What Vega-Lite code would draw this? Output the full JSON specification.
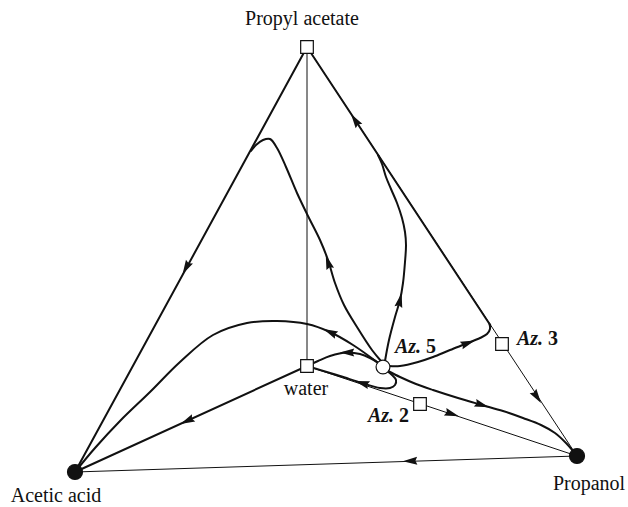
{
  "$schema": "https://vega.github.io/schema/vega-lite/v6.json",
  "width": 628,
  "height": 507,
  "autosize": {"type": "fit", "contains": "padding"},
  "padding": 0,
  "background": "white",
  "config": {"view": {"stroke": null}},
  "datasets": {
    "paths": [
      {"line": "Propyl acetate–Propanol", "type": "edge", "i": 0, "x": 307, "y": 47},
      {"line": "Propyl acetate–Propanol", "type": "edge", "i": 1, "x": 577, "y": 456},
      {"line": "Acetic acid–Propanol", "type": "edge", "i": 0, "x": 75, "y": 472},
      {"line": "Acetic acid–Propanol", "type": "edge", "i": 1, "x": 577, "y": 456},
      {"line": "Propyl acetate–water", "type": "edge", "i": 0, "x": 307, "y": 47},
      {"line": "Propyl acetate–water", "type": "edge", "i": 1, "x": 307, "y": 366},
      {"line": "water–Propanol", "type": "edge", "i": 0, "x": 307, "y": 366},
      {"line": "water–Propanol", "type": "edge", "i": 1, "x": 577, "y": 456},

      {"line": "r1", "type": "residue curve", "i": 0, "x": 307, "y": 47},
      {"line": "r1", "type": "residue curve", "i": 1, "x": 75, "y": 472},

      {"line": "r2", "type": "residue curve", "i": 0, "x": 377, "y": 362},
      {"line": "r2", "type": "residue curve", "i": 1, "x": 353, "y": 345},
      {"line": "r2", "type": "residue curve", "i": 2, "x": 330, "y": 332},
      {"line": "r2", "type": "residue curve", "i": 3, "x": 307, "y": 324},
      {"line": "r2", "type": "residue curve", "i": 4, "x": 277, "y": 321},
      {"line": "r2", "type": "residue curve", "i": 5, "x": 247, "y": 323},
      {"line": "r2", "type": "residue curve", "i": 6, "x": 213, "y": 335},
      {"line": "r2", "type": "residue curve", "i": 7, "x": 180, "y": 362},
      {"line": "r2", "type": "residue curve", "i": 8, "x": 150, "y": 392},
      {"line": "r2", "type": "residue curve", "i": 9, "x": 120, "y": 421},
      {"line": "r2", "type": "residue curve", "i": 10, "x": 95, "y": 448},
      {"line": "r2", "type": "residue curve", "i": 11, "x": 75, "y": 472},

      {"line": "r3", "type": "residue curve", "i": 0, "x": 380, "y": 364},
      {"line": "r3", "type": "residue curve", "i": 1, "x": 370, "y": 358},
      {"line": "r3", "type": "residue curve", "i": 2, "x": 360, "y": 354},
      {"line": "r3", "type": "residue curve", "i": 3, "x": 347, "y": 352.5},
      {"line": "r3", "type": "residue curve", "i": 4, "x": 330, "y": 356},
      {"line": "r3", "type": "residue curve", "i": 5, "x": 318, "y": 361},
      {"line": "r3", "type": "residue curve", "i": 6, "x": 309, "y": 365},

      {"line": "r4", "type": "residue curve", "i": 0, "x": 381, "y": 361},
      {"line": "r4", "type": "residue curve", "i": 1, "x": 372, "y": 350},
      {"line": "r4", "type": "residue curve", "i": 2, "x": 357, "y": 327},
      {"line": "r4", "type": "residue curve", "i": 3, "x": 344, "y": 305},
      {"line": "r4", "type": "residue curve", "i": 4, "x": 335, "y": 283},
      {"line": "r4", "type": "residue curve", "i": 5, "x": 328, "y": 260},
      {"line": "r4", "type": "residue curve", "i": 6, "x": 320, "y": 240},
      {"line": "r4", "type": "residue curve", "i": 7, "x": 308, "y": 216},
      {"line": "r4", "type": "residue curve", "i": 8, "x": 297, "y": 193},
      {"line": "r4", "type": "residue curve", "i": 9, "x": 286, "y": 167},
      {"line": "r4", "type": "residue curve", "i": 10, "x": 277, "y": 148},
      {"line": "r4", "type": "residue curve", "i": 11, "x": 270, "y": 139},
      {"line": "r4", "type": "residue curve", "i": 12, "x": 263, "y": 140},
      {"line": "r4", "type": "residue curve", "i": 13, "x": 256, "y": 145},
      {"line": "r4", "type": "residue curve", "i": 14, "x": 251, "y": 151},

      {"line": "r5", "type": "residue curve", "i": 0, "x": 385, "y": 361},
      {"line": "r5", "type": "residue curve", "i": 1, "x": 389, "y": 340},
      {"line": "r5", "type": "residue curve", "i": 2, "x": 395, "y": 317},
      {"line": "r5", "type": "residue curve", "i": 3, "x": 400, "y": 300},
      {"line": "r5", "type": "residue curve", "i": 4, "x": 403, "y": 283},
      {"line": "r5", "type": "residue curve", "i": 5, "x": 405, "y": 262},
      {"line": "r5", "type": "residue curve", "i": 6, "x": 406, "y": 245},
      {"line": "r5", "type": "residue curve", "i": 7, "x": 405, "y": 232},
      {"line": "r5", "type": "residue curve", "i": 8, "x": 402, "y": 218},
      {"line": "r5", "type": "residue curve", "i": 9, "x": 397, "y": 203},
      {"line": "r5", "type": "residue curve", "i": 10, "x": 391, "y": 189},
      {"line": "r5", "type": "residue curve", "i": 11, "x": 386, "y": 177},
      {"line": "r5", "type": "residue curve", "i": 12, "x": 382, "y": 164},
      {"line": "r5", "type": "residue curve", "i": 13, "x": 378, "y": 155},

      {"line": "r6", "type": "residue curve", "i": 0, "x": 389, "y": 366},
      {"line": "r6", "type": "residue curve", "i": 1, "x": 400, "y": 366},
      {"line": "r6", "type": "residue curve", "i": 2, "x": 418, "y": 362},
      {"line": "r6", "type": "residue curve", "i": 3, "x": 433, "y": 357},
      {"line": "r6", "type": "residue curve", "i": 4, "x": 450, "y": 350},
      {"line": "r6", "type": "residue curve", "i": 5, "x": 468, "y": 343},
      {"line": "r6", "type": "residue curve", "i": 6, "x": 480, "y": 338},
      {"line": "r6", "type": "residue curve", "i": 7, "x": 487, "y": 334},
      {"line": "r6", "type": "residue curve", "i": 8, "x": 490, "y": 329},
      {"line": "r6", "type": "residue curve", "i": 9, "x": 489.5, "y": 324},

      {"line": "r6 along edge", "type": "residue curve", "i": 0, "x": 490.2, "y": 325},
      {"line": "r6 along edge", "type": "residue curve", "i": 1, "x": 307, "y": 47},

      {"line": "r7", "type": "residue curve", "i": 0, "x": 388, "y": 371},
      {"line": "r7", "type": "residue curve", "i": 1, "x": 400, "y": 377},
      {"line": "r7", "type": "residue curve", "i": 2, "x": 416, "y": 384},
      {"line": "r7", "type": "residue curve", "i": 3, "x": 433, "y": 390},
      {"line": "r7", "type": "residue curve", "i": 4, "x": 458, "y": 398},
      {"line": "r7", "type": "residue curve", "i": 5, "x": 482, "y": 405},
      {"line": "r7", "type": "residue curve", "i": 6, "x": 503, "y": 411},
      {"line": "r7", "type": "residue curve", "i": 7, "x": 523, "y": 418},
      {"line": "r7", "type": "residue curve", "i": 8, "x": 541, "y": 425},
      {"line": "r7", "type": "residue curve", "i": 9, "x": 555, "y": 433},
      {"line": "r7", "type": "residue curve", "i": 10, "x": 566, "y": 443},
      {"line": "r7", "type": "residue curve", "i": 11, "x": 573, "y": 451},
      {"line": "r7", "type": "residue curve", "i": 12, "x": 577, "y": 456},

      {"line": "r8", "type": "residue curve", "i": 0, "x": 387, "y": 371},
      {"line": "r8", "type": "residue curve", "i": 1, "x": 392, "y": 375},
      {"line": "r8", "type": "residue curve", "i": 2, "x": 396, "y": 380},
      {"line": "r8", "type": "residue curve", "i": 3, "x": 395, "y": 385},
      {"line": "r8", "type": "residue curve", "i": 4, "x": 390, "y": 388},
      {"line": "r8", "type": "residue curve", "i": 5, "x": 380, "y": 388},
      {"line": "r8", "type": "residue curve", "i": 6, "x": 362, "y": 383},
      {"line": "r8", "type": "residue curve", "i": 7, "x": 340, "y": 376},
      {"line": "r8", "type": "residue curve", "i": 8, "x": 320, "y": 370},
      {"line": "r8", "type": "residue curve", "i": 9, "x": 307, "y": 366},

      {"line": "r9", "type": "residue curve", "i": 0, "x": 307, "y": 366},
      {"line": "r9", "type": "residue curve", "i": 1, "x": 75, "y": 472}
    ],
    "arrows": [
      {"x": 186, "y": 268, "heading": 208.6},
      {"x": 355, "y": 120, "heading": 326.5},
      {"x": 537, "y": 397, "heading": 146.5},
      {"x": 410, "y": 461, "heading": 268},
      {"x": 328, "y": 262, "heading": 342},
      {"x": 400, "y": 300, "heading": 13},
      {"x": 330, "y": 332, "heading": 294.5},
      {"x": 347, "y": 352.5, "heading": 270},
      {"x": 362, "y": 383, "heading": 287},
      {"x": 187, "y": 421, "heading": 245.4},
      {"x": 468, "y": 343, "heading": 69.7},
      {"x": 482, "y": 405, "heading": 107.6},
      {"x": 452, "y": 414, "heading": 108.4}
    ],
    "points": [
      {"name": "Propyl acetate", "kind": "saddle", "x": 307, "y": 47},
      {"name": "water", "kind": "saddle", "x": 307, "y": 366},
      {"name": "Az. 3", "kind": "saddle", "x": 502, "y": 344},
      {"name": "Az. 2", "kind": "saddle", "x": 420, "y": 404},
      {"name": "Az. 5", "kind": "unstable node", "x": 383, "y": 367},
      {"name": "Acetic acid", "kind": "stable node", "x": 75, "y": 472},
      {"name": "Propanol", "kind": "stable node", "x": 577, "y": 456}
    ],
    "names": [
      {"text": "Propyl acetate", "x": 302, "y": 25},
      {"text": "Acetic acid", "x": 56, "y": 502},
      {"text": "Propanol", "x": 589, "y": 490},
      {"text": "water", "x": 306, "y": 395}
    ],
    "azeotropes": [
      {"prefix": "Az.", "number": "5", "x": 395, "y": 353},
      {"prefix": "Az.", "number": "3", "x": 517, "y": 345},
      {"prefix": "Az.", "number": "2", "x": 368, "y": 422}
    ]
  },
  "encoding": {
    "x": {"field": "x", "type": "quantitative", "axis": null,
          "scale": {"domain": [0, 628], "nice": false, "zero": false}},
    "y": {"field": "y", "type": "quantitative", "axis": null,
          "scale": {"domain": [0, 507], "reverse": true, "nice": false, "zero": false}}
  },
  "layer": [
    {
      "data": {"name": "paths"},
      "mark": {"type": "line", "interpolate": "catmull-rom", "color": "#111111",
               "strokeCap": "round", "strokeJoin": "round"},
      "encoding": {
        "detail": {"field": "line", "type": "nominal"},
        "order": {"field": "i", "type": "quantitative"},
        "strokeWidth": {"field": "type", "type": "nominal", "legend": null,
                        "scale": {"domain": ["edge", "residue curve"], "range": [1, 2]}}
      }
    },
    {
      "data": {"name": "arrows"},
      "mark": {"type": "point", "filled": true, "color": "#111111", "opacity": 1,
               "shape": "M0,-1L0.55,1L0,0.75L-0.55,1Z", "size": 210},
      "encoding": {
        "angle": {"field": "heading", "type": "quantitative", "scale": null}
      }
    },
    {
      "data": {"name": "points"},
      "mark": {"type": "point", "filled": true, "opacity": 1, "stroke": "#111111", "strokeWidth": 1.2},
      "encoding": {
        "shape": {"field": "kind", "type": "nominal", "legend": null,
                  "scale": {"domain": ["stable node", "unstable node", "saddle"],
                            "range": ["circle", "circle", "square"]}},
        "fill": {"field": "kind", "type": "nominal", "legend": null,
                 "scale": {"domain": ["stable node", "unstable node", "saddle"],
                           "range": ["#111111", "white", "white"]}},
        "size": {"field": "kind", "type": "nominal", "legend": null,
                 "scale": {"domain": ["stable node", "unstable node", "saddle"],
                           "range": [225, 160, 100]}}
      }
    },
    {
      "data": {"name": "names"},
      "mark": {"type": "text", "font": "Liberation Serif", "fontSize": 20,
               "align": "center", "baseline": "alphabetic", "color": "#111111"},
      "encoding": {"text": {"field": "text"}}
    },
    {
      "data": {"name": "azeotropes"},
      "mark": {"type": "text", "font": "Liberation Serif", "fontSize": 20, "fontWeight": "bold",
               "fontStyle": "italic", "align": "left", "baseline": "alphabetic", "color": "#111111"},
      "encoding": {"text": {"field": "prefix"}}
    },
    {
      "data": {"name": "azeotropes"},
      "mark": {"type": "text", "font": "Liberation Serif", "fontSize": 20, "fontWeight": "bold",
               "align": "left", "baseline": "alphabetic", "dx": 31, "color": "#111111"},
      "encoding": {"text": {"field": "number"}}
    }
  ]
}
